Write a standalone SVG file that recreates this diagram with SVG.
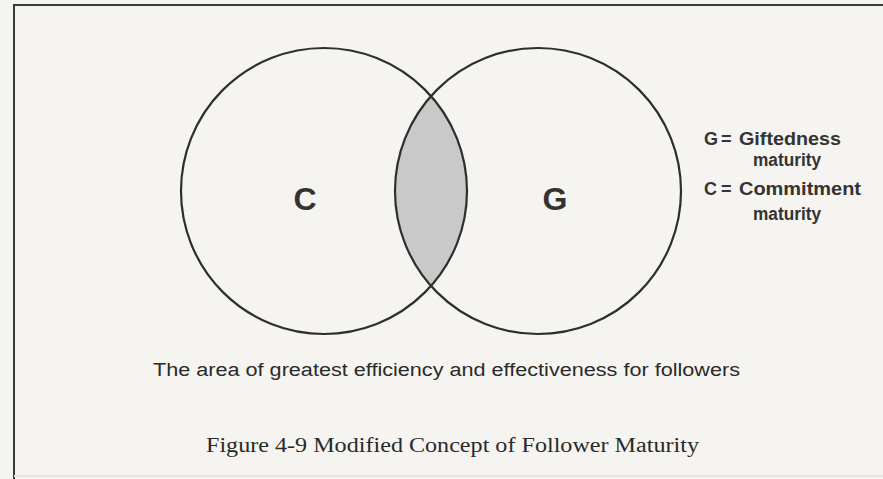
<svg xmlns="http://www.w3.org/2000/svg" width="883" height="479" viewBox="0 0 883 479">
  <style>
    .ring { fill: none; stroke: #2e2e2e; stroke-width: 2.2; }
    .big { font-family: "Liberation Sans", Arial, sans-serif; font-weight: bold; font-size: 32px; fill: #333; text-anchor: middle; }
    .legend { font-family: "Liberation Sans", Arial, sans-serif; font-weight: bold; font-size: 18px; fill: #333; }
    .note { font-family: "Liberation Sans", Arial, sans-serif; font-size: 18px; fill: #2a2a2a; }
    .caption { font-family: "Liberation Serif", "Times New Roman", serif; font-size: 20px; fill: #2a2a2a; }
  </style>
  <rect x="0" y="0" width="883" height="479" fill="#f6f4f0"/>
  <path d="M14,479 L14,5 L883,5" fill="none" stroke="#3a3a3a" stroke-width="2"/>
  <line x1="14" y1="476" x2="883" y2="476" stroke="#e6e2dc" stroke-width="2"/>

  <g id="overlap">
    <path d="M431,96.1 A143,143 0 0,1 431,285.9 A143,143 0 0,1 431,96.1 Z" fill="#c9c9c9"/>
  </g>
  <g id="node-c">
    <circle class="ring" cx="324" cy="191" r="143"/>
    <text class="big" x="305" y="210">C</text>
  </g>
  <g id="node-g">
    <circle class="ring" cx="538" cy="191" r="143"/>
    <text class="big" x="555" y="210">G</text>
  </g>
  <g id="connectors"></g>

  <g id="legend">
    <text class="legend" x="704 719 721" y="145">G =</text>
    <text class="legend" x="739" y="145" textLength="102" lengthAdjust="spacingAndGlyphs">Giftedness</text>
    <text class="legend" x="753" y="166" textLength="68" lengthAdjust="spacingAndGlyphs">maturity</text>
    <text class="legend" x="704 719 721" y="195">C =</text>
    <text class="legend" x="739" y="195" textLength="122" lengthAdjust="spacingAndGlyphs">Commitment</text>
    <text class="legend" x="753" y="220" textLength="68" lengthAdjust="spacingAndGlyphs">maturity</text>
  </g>

  <g id="note">
    <text class="note" x="153" y="376" textLength="587" lengthAdjust="spacingAndGlyphs">The area of greatest efficiency and effectiveness for followers</text>
  </g>
  <g id="caption">
    <text class="caption" x="206" y="452" textLength="493" lengthAdjust="spacingAndGlyphs">Figure 4-9 Modified Concept of Follower Maturity</text>
  </g>
</svg>
